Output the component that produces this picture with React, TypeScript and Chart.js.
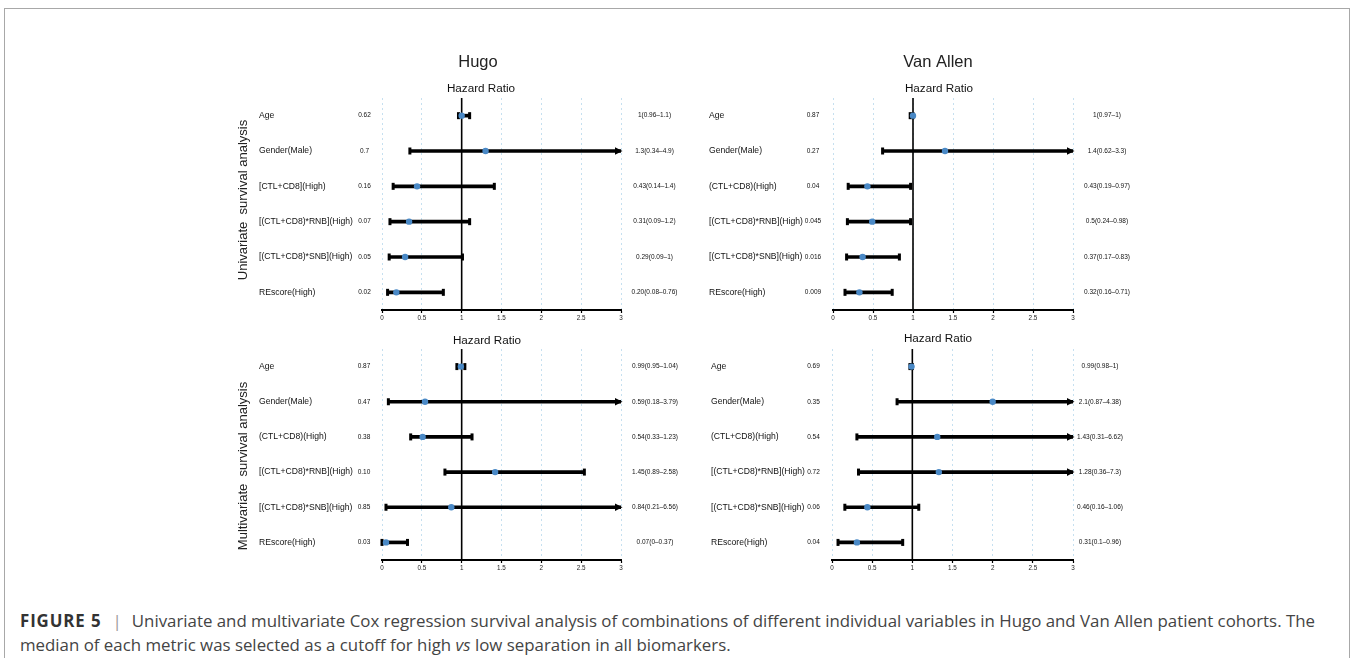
import React, { useEffect, useRef } from 'react';
import { Chart, registerables } from 'chart.js';

Chart.register(...registerables);

const FONT = "'Liberation Sans', Arial, Helvetica, sans-serif";

// ---------- data ----------
const X_MIN = 0;
const X_MAX = 3;
const X_STEP = 0.5;

const COHORT_TITLES = ['Hugo', 'Van Allen'];
const ANALYSIS_LABELS = ['Univariate  survival analysis', 'Multivariate  survival analysis'];
const AXIS_TITLE = 'Hazard Ratio';

const HUGO_UNI_LABELS = ['Age', 'Gender(Male)', '[CTL+CD8](High)', '[(CTL+CD8)*RNB](High)', '[(CTL+CD8)*SNB](High)', 'REscore(High)'];
const VARIABLE_LABELS = ['Age', 'Gender(Male)', '(CTL+CD8)(High)', '[(CTL+CD8)*RNB](High)', '[(CTL+CD8)*SNB](High)', 'REscore(High)'];

// Hugo – univariate
const hugoUniHR = [1.0, 1.3, 0.44, 0.34, 0.29, 0.18];
const hugoUniLo = [0.96, 0.35, 0.14, 0.1, 0.09, 0.07];
const hugoUniHi = [1.1, 4.9, 1.41, 1.1, 1.01, 0.77];
const hugoUniP = ['0.62', '0.7', '0.16', '0.07', '0.05', '0.02'];
const hugoUniCI = ['1(0.96–1.1)', '1.3(0.34–4.9)', '0.43(0.14–1.4)', '0.31(0.09–1.2)', '0.29(0.09–1)', '0.20(0.08–0.76)'];

// Van Allen – univariate
const vanUniHR = [1.0, 1.4, 0.43, 0.49, 0.37, 0.33];
const vanUniLo = [0.965, 0.62, 0.19, 0.18, 0.17, 0.15];
const vanUniHi = [1.0, 3.3, 0.97, 0.97, 0.83, 0.74];
const vanUniP = ['0.87', '0.27', '0.04', '0.045', '0.016', '0.009'];
const vanUniCI = ['1(0.97–1)', '1.4(0.62–3.3)', '0.43(0.19–0.97)', '0.5(0.24–0.98)', '0.37(0.17–0.83)', '0.32(0.16–0.71)'];

// Hugo – multivariate
const hugoMultiHR = [0.99, 0.54, 0.51, 1.42, 0.87, 0.05];
const hugoMultiLo = [0.94, 0.08, 0.36, 0.79, 0.05, 0.0];
const hugoMultiHi = [1.04, 3.79, 1.13, 2.54, 6.56, 0.32];
const hugoMultiP = ['0.87', '0.47', '0.38', '0.10', '0.85', '0.03'];
const hugoMultiCI = ['0.99(0.95–1.04)', '0.59(0.18–3.79)', '0.54(0.33–1.23)', '1.45(0.89–2.58)', '0.84(0.21–6.56)', '0.07(0–0.37)'];

// Van Allen – multivariate
const vanMultiHR = [0.99, 2.0, 1.31, 1.33, 0.44, 0.31];
const vanMultiLo = [0.97, 0.81, 0.31, 0.33, 0.16, 0.075];
const vanMultiHi = [1.0, 4.38, 6.62, 7.3, 1.08, 0.88];
const vanMultiP = ['0.69', '0.35', '0.54', '0.72', '0.06', '0.04'];
const vanMultiCI = ['0.99(0.98–1)', '2.1(0.87–4.38)', '1.43(0.31–6.62)', '1.28(0.36–7.3)', '0.46(0.16–1.06)', '0.31(0.1–0.96)'];

// ---------- layout (page coordinates) ----------
const AXIS_H = 20;
const PANELS = [
  {
    labels: HUGO_UNI_LABELS, hr: hugoUniHR, lo: hugoUniLo, hi: hugoUniHi, p: hugoUniP, ci: hugoUniCI,
    title: COHORT_TITLES[0], side: ANALYSIS_LABELS[0],
    box: { left: 230, top: 40, width: 450 }, area: { l: 382, r: 621, t: 98, b: 310 },
    pos: { titleX: 478, titleY: 62, hrX: 481, hrY: 89, labelX: 259, pX: 364.5, ciX: 654.5, sideX: 243, sideY: 200 },
  },
  {
    labels: VARIABLE_LABELS, hr: vanUniHR, lo: vanUniLo, hi: vanUniHi, p: vanUniP, ci: vanUniCI,
    title: COHORT_TITLES[1], side: null,
    box: { left: 690, top: 40, width: 450 }, area: { l: 833, r: 1073, t: 98, b: 310 },
    pos: { titleX: 938, titleY: 62, hrX: 939, hrY: 89, labelX: 709, pX: 813, ciX: 1107 },
  },
  {
    labels: VARIABLE_LABELS, hr: hugoMultiHR, lo: hugoMultiLo, hi: hugoMultiHi, p: hugoMultiP, ci: hugoMultiCI,
    title: null, side: ANALYSIS_LABELS[1],
    box: { left: 230, top: 325, width: 450 }, area: { l: 382, r: 621, t: 349, b: 560 },
    pos: { hrX: 487, hrY: 341, labelX: 259, pX: 364, ciX: 655, sideX: 243, sideY: 466 },
  },
  {
    labels: VARIABLE_LABELS, hr: vanMultiHR, lo: vanMultiLo, hi: vanMultiHi, p: vanMultiP, ci: vanMultiCI,
    title: null, side: null,
    box: { left: 690, top: 325, width: 450 }, area: { l: 832, r: 1073, t: 349, b: 560 },
    pos: { hrX: 938, hrY: 339, labelX: 711, pX: 813.5, ciX: 1100 },
  },
];

const TEXT = '#111';
const POINT = '#4a89c6';
const GRID = '#c6e0f0';

function makePlugin(panel: any) {
  return {
    id: 'forest',
    beforeDatasetsDraw(chart: any) {
      const { ctx, chartArea } = chart;
      const x = chart.scales.x;
      const y = chart.scales.y;
      ctx.save();
      const x1 = x.getPixelForValue(1);
      ctx.strokeStyle = '#000';
      ctx.lineWidth = 1.6;
      ctx.beginPath();
      ctx.moveTo(x1, chartArea.top);
      ctx.lineTo(x1, chartArea.bottom);
      ctx.stroke();
      ctx.fillStyle = '#000';
      panel.lo.forEach((lo: number, i: number) => {
        const yy = y.getPixelForValue(i);
        const xl = x.getPixelForValue(lo);
        ctx.fillRect(xl - 1.5, yy - 3.5, 3, 7);
        if (panel.hi[i] > X_MAX) {
          const xe = x.getPixelForValue(X_MAX);
          ctx.beginPath();
          ctx.moveTo(xe - 6, yy - 3.8);
          ctx.lineTo(xe + 1.5, yy);
          ctx.lineTo(xe - 6, yy + 3.8);
          ctx.closePath();
          ctx.fill();
        } else {
          const xh = x.getPixelForValue(panel.hi[i]);
          ctx.fillRect(xh - 1.5, yy - 3.5, 3, 7);
        }
      });
      ctx.restore();
    },
    afterDraw(chart: any) {
      const { ctx } = chart;
      const y = chart.scales.y;
      const ox = panel.box.left;
      const oy = panel.box.top;
      const P = panel.pos;
      ctx.save();
      ctx.fillStyle = TEXT;
      ctx.textBaseline = 'middle';
      if (panel.title) {
        ctx.font = `16.5px ${FONT}`;
        ctx.textAlign = 'center';
        ctx.fillStyle = '#222';
        ctx.fillText(panel.title, P.titleX - ox, P.titleY - oy);
        ctx.fillStyle = TEXT;
      }
      ctx.font = `11.7px ${FONT}`;
      ctx.textAlign = 'center';
      ctx.fillText(AXIS_TITLE, P.hrX - ox, P.hrY - oy);
      panel.labels.forEach((lab: string, i: number) => {
        const yy = y.getPixelForValue(i);
        ctx.font = `8.6px ${FONT}`;
        ctx.textAlign = 'left';
        ctx.fillText(lab, P.labelX - ox, yy);
        ctx.font = `6.5px ${FONT}`;
        ctx.textAlign = 'center';
        ctx.fillText(panel.p[i], P.pX - ox, yy);
        ctx.fillText(panel.ci[i], P.ciX - ox, yy);
      });
      if (panel.side) {
        ctx.translate(P.sideX - ox, P.sideY - oy);
        ctx.rotate(-Math.PI / 2);
        ctx.font = `13px ${FONT}`;
        ctx.textAlign = 'center';
        ctx.fillStyle = '#222';
        ctx.fillText(panel.side, 0, 0);
      }
      ctx.restore();
    },
  };
}

function ForestPanel({ panel }: { panel: any }) {
  const ref = useRef<HTMLCanvasElement>(null);
  const w = panel.box.width;
  const h = panel.area.b + AXIS_H - panel.box.top;
  useEffect(() => {
    const canvas = ref.current!;
    const chart = new Chart(canvas, {
      type: 'bar',
      data: {
        labels: panel.labels,
        datasets: [
          {
            type: 'line',
            data: panel.hr,
            showLine: false,
            pointStyle: 'circle',
            pointRadius: 3.2,
            pointBackgroundColor: POINT,
            pointBorderWidth: 0,
            pointBorderColor: POINT,
            order: 1,
          } as any,
          {
            type: 'bar',
            data: panel.lo.map((l: number, i: number) => [l, Math.min(panel.hi[i], X_MAX)]),
            backgroundColor: '#000',
            borderWidth: 0,
            barThickness: 3,
            order: 2,
          } as any,
        ],
      },
      options: {
        animation: false,
        responsive: false,
        devicePixelRatio: 1,
        indexAxis: 'y',
        layout: {
          padding: {
            left: panel.area.l - panel.box.left,
            right: panel.box.left + w - panel.area.r,
            top: panel.area.t - panel.box.top,
            bottom: 0,
          },
        },
        plugins: { legend: { display: false }, tooltip: { enabled: false }, title: { display: false } },
        scales: {
          x: {
            type: 'linear',
            position: 'bottom',
            min: X_MIN,
            max: X_MAX,
            afterFit: (s: any) => { s.height = AXIS_H; },
            ticks: {
              stepSize: X_STEP, autoSkip: false, maxRotation: 0, padding: 1, color: '#222',
              font: { size: 6.3, family: FONT },
              callback: (v: any) => String(Number(v)),
            },
            grid: { color: GRID, lineWidth: 1, drawTicks: true, tickLength: 3, tickColor: '#000', tickWidth: 1.2 },
            border: { display: true, color: '#000', width: 2, dash: [2, 3] },
          },
          y: {
            type: 'category',
            offset: true,
            display: false,
            grid: { display: false },
          },
        },
      } as any,
      plugins: [makePlugin(panel)],
    });
    return () => chart.destroy();
  }, []);
  return (
    <canvas
      ref={ref}
      width={w}
      height={h}
      style={{ position: 'absolute', left: panel.box.left, top: panel.box.top, width: w, height: h }}
    />
  );
}

export default function App() {
  useEffect(() => {
    document.body.style.overflow = 'hidden';
  }, []);
  return (
    <div style={{ position: 'absolute', left: 0, top: 0, width: 1352, height: 658, background: '#fff', overflow: 'hidden' }}>
      <div
        style={{
          position: 'absolute', left: 4, top: 8, width: 1346, height: 650, boxSizing: 'border-box',
          borderTop: '1px solid #a8a8a8', borderLeft: '1px solid #a8a8a8', borderRight: '1px solid #a8a8a8',
        }}
      />
      {PANELS.map((p, i) => (
        <ForestPanel key={i} panel={p} />
      ))}
      <div
        style={{
          position: 'absolute', left: 20, top: 609, fontFamily: "'Open Sans', sans-serif", fontSize: 16.85,
          lineHeight: '24px', color: '#444', whiteSpace: 'nowrap',
        }}
      >
        <b style={{ color: '#333', letterSpacing: '0.9px' }}>FIGURE 5</b>
        <span style={{ color: '#999', margin: '0 10px 0 11px' }}>|</span>
        Univariate and multivariate Cox regression survival analysis of combinations of different individual variables in Hugo and Van Allen patient cohorts. The
        <br />
        median of each metric was selected as a cutoff for high <i>vs</i> low separation in all biomarkers.
      </div>
    </div>
  );
}
